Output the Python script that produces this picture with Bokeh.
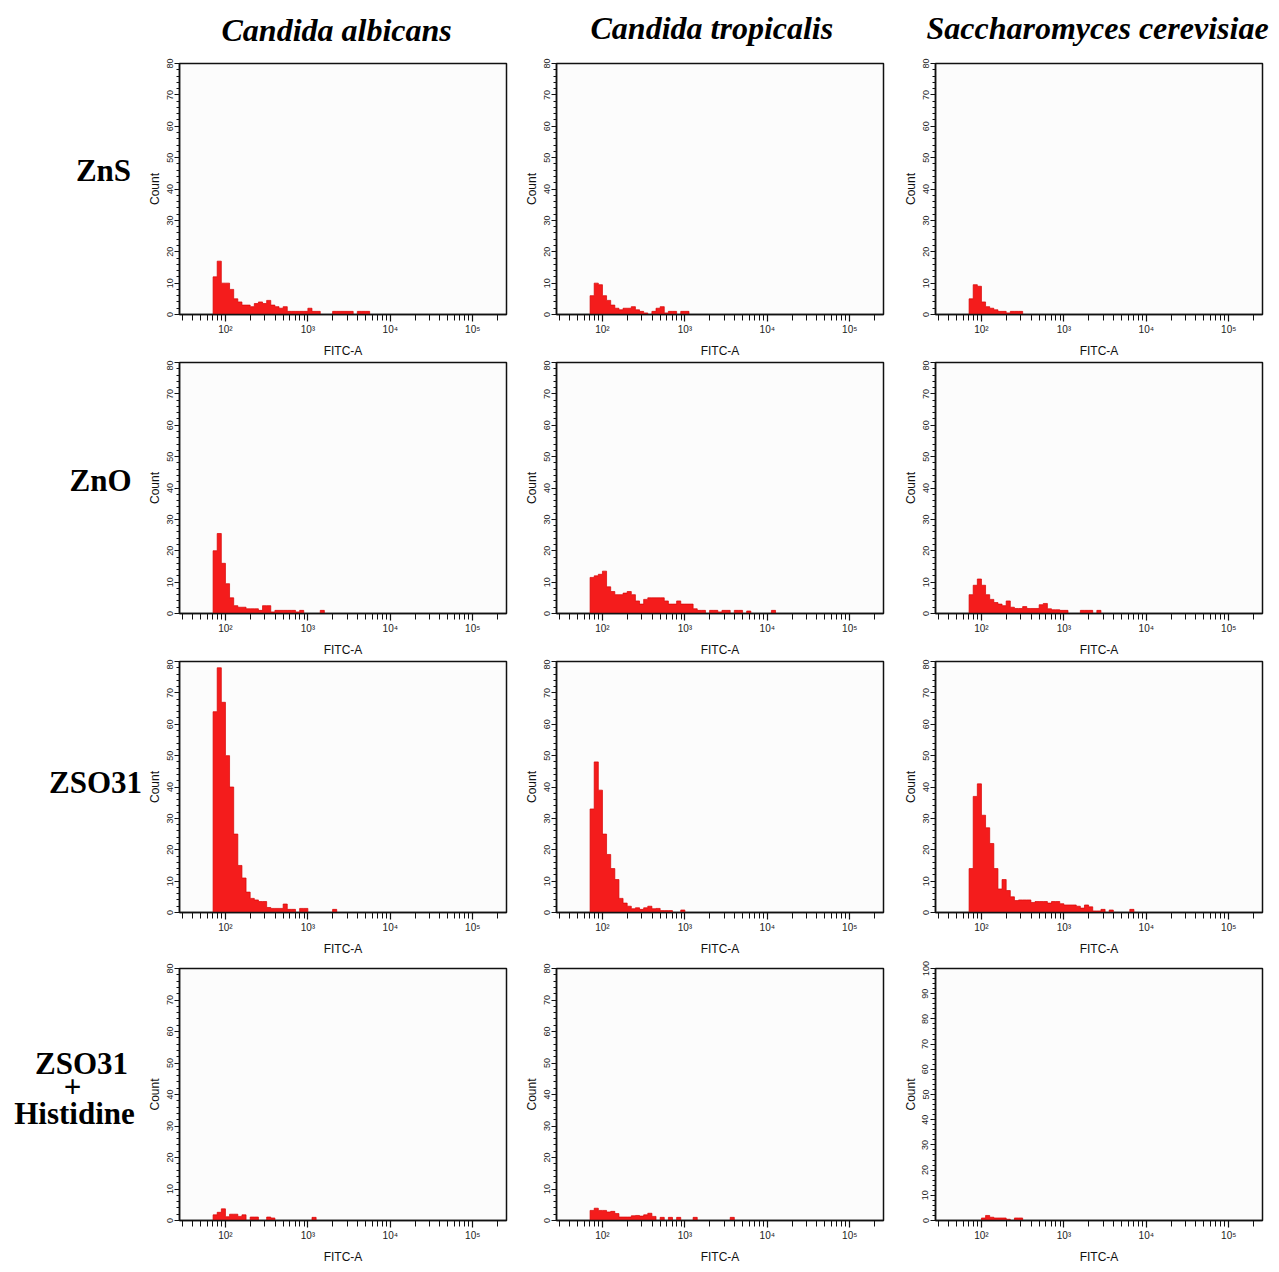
from bokeh.plotting import figure
from bokeh.models import Range1d, FixedTicker, ColumnDataSource
from bokeh.layouts import row, column
from bokeh.core.properties import value
from bokeh.embed import file_html
from bokeh.resources import INLINE

# ---------------- data ----------------
COLUMNS = ["Candida albicans", "Candida tropicalis", "Saccharomyces cerevisiae"]
ROWS = ["ZnS", "ZnO", "ZSO31", "ZSO31 + Histidine"]

# FITC-A histogram bin edges (log-spaced, 0.05 decade)
EDGES = [70.8, 79.4, 89.1, 100, 112.2, 125.9, 141.3, 158.5, 177.8, 199.5,
         223.9, 251.2, 281.8, 316.2, 354.8, 398.1, 446.7, 501.2, 562.3, 631.0,
         707.9, 794.3, 891.3, 1000, 1122, 1259, 1413, 1585, 1778, 1995,
         2239, 2512, 2818, 3162, 3548, 3981, 4467, 5012, 5623, 6310,
         7079, 7943, 8913, 10000, 11220, 12589, 14125, 15849]

zns_albicans = [12, 17, 10, 10, 8, 5, 4, 3, 3, 2.5, 3.5, 4, 3.5, 4.5, 3, 2.5, 2, 2.5, 1, 1,
                1, 1, 1, 2, 1, 1, 0, 0, 0, 1, 1, 1, 1, 1, 0, 1, 1, 1]
zns_tropicalis = [6, 10, 9.5, 6, 4.5, 3, 2, 1.5, 2, 2, 2.5, 1.5, 1, 0.5, 0, 1, 2, 2.5, 0.5, 1,
                  1, 0, 1, 1]
zns_cerevisiae = [5, 9.5, 9, 4, 2.5, 2, 1.5, 1, 1, 0.5, 1, 1, 1]

zno_albicans = [20, 25.5, 16, 9.5, 5, 2.5, 2, 2, 1.5, 1.5, 1.5, 1, 2.5, 2.5, 0.5, 1, 1, 1, 1, 1,
                0.5, 1, 0, 0, 0, 0, 1]
zno_tropicalis = [11.5, 12, 12.5, 13.5, 8.5, 7, 6, 6, 6.5, 7, 6, 4, 3, 4.5, 5, 5, 5, 5, 4, 3,
                  3, 4, 3, 3, 3, 1.5, 1, 1, 0, 1, 1, 0.5, 1, 1, 0, 1, 1, 0, 0.8, 0,
                  0, 0, 0, 0, 1]
zno_cerevisiae = [6, 9, 11, 9, 6, 4.5, 3.5, 3, 2.5, 4, 2, 1.6, 1.6, 2.2, 1.6, 1.6, 1.6, 2.8, 3.2, 1.5,
                  1.2, 1.2, 1, 1, 0, 0, 0, 1, 1, 1, 0, 1]

zso_albicans = [64, 78, 67, 50, 40, 25, 15, 11, 6.5, 4.5, 4, 3.5, 3.5, 1.6, 1.3, 1.3, 1.3, 2.7, 1, 1,
                0, 1.3, 1.3, 0, 0, 0, 0, 0, 0, 1]
zso_tropicalis = [33, 48, 39, 25, 18.5, 14, 10.5, 4.5, 3, 2, 1.2, 1.5, 1, 1.5, 2, 1.2, 1.3, 0.6, 0.6, 0.6,
                  0, 0, 0.8]
zso_cerevisiae = [14, 37, 41, 31, 27, 22, 14, 7.5, 10.5, 7, 5, 3.8, 4, 4, 4, 3.2, 3.5, 3.5, 3.5, 3,
                  3.5, 3.5, 2.8, 2.4, 2.4, 2.4, 2, 1.4, 2.4, 1.8, 0.5, 0.5, 1, 0, 0.8, 0, 0, 0, 0, 1]

his_albicans = [1.8, 2.6, 3.7, 1.2, 2, 2, 1.3, 1.8, 0, 1.1, 1.1, 0, 0, 1.1, 0.8, 0, 0, 0, 0, 0,
                0, 0, 0, 0, 1]
his_tropicalis = [3.2, 3.9, 3.2, 3.2, 2.7, 2.9, 2.2, 1.1, 1.1, 1.1, 1.5, 1.6, 1.4, 1.8, 2.3, 1.3, 0, 1, 0, 1,
                  0, 1, 0, 0, 0, 1, 0, 0, 0, 0, 0, 0, 0, 0, 1]
his_cerevisiae = [0, 0, 0, 1, 2, 1.3, 1, 1, 1, 0.5, 0, 1, 1]

DATA = [[zns_albicans, zns_tropicalis, zns_cerevisiae],
        [zno_albicans, zno_tropicalis, zno_cerevisiae],
        [zso_albicans, zso_tropicalis, zso_cerevisiae],
        [his_albicans, his_tropicalis, his_cerevisiae]]
YMAX = [[80, 80, 80], [80, 80, 80], [80, 80, 80], [80, 80, 100]]

X_MAJOR = [100, 1000, 10000, 100000]
X_LABELS = ["10\u00b2", "10\u00b3", "10\u2074", "10\u2075"]
X_MINOR = [m * 10 ** e for e in range(1, 6) for m in range(2, 10) if 27.7 < m * 10 ** e < 2.57e5]
X_RANGE = (27.7, 2.57e5)

RED = "#f41c1c"
EDGE_RED = "#d80000"

# ---------------- layout geometry ----------------
FRAME_W = 327
COL_BORDERS = [(36, 14), (36, 16), (36, 10)]
ROW_BORDERS = [(11, 46, 251), (2, 46, 251), (2, 46, 251), (10, 46, 252)]


def panel(counts, ymax, col, r):
    bl, br = COL_BORDERS[col]
    bt, bb, fh = ROW_BORDERS[r]
    p = figure(frame_width=FRAME_W, frame_height=fh, x_axis_type="log",
               x_range=Range1d(*X_RANGE), y_range=Range1d(0, ymax),
               min_border_left=bl, min_border_right=br, min_border_top=bt, min_border_bottom=bb,
               toolbar_location=None, output_backend="svg",
               background_fill_color="#fcfcfc", border_fill_color="white",
               outline_line_color="#111111", outline_line_width=1.5)
    xs = [EDGES[0]]
    ys = [0]
    for k, c in enumerate(counts):
        xs += [EDGES[k], EDGES[k + 1]]
        ys += [c, c]
    xs.append(EDGES[len(counts)])
    ys.append(0)
    p.patch(xs, ys, fill_color=RED, line_color=EDGE_RED, line_width=0.7)
    p.grid.visible = False

    xa = p.xaxis[0]
    xa.ticker = FixedTicker(ticks=X_MAJOR, minor_ticks=X_MINOR)
    xa.major_label_overrides = {t: lab for t, lab in zip(X_MAJOR, X_LABELS)}
    xa.axis_label = "FITC-A"
    ya = p.yaxis[0]
    ya.ticker = FixedTicker(ticks=list(range(0, ymax + 1, 10)),
                            minor_ticks=[v for v in range(0, ymax + 1, 2) if v % 10])
    ya.axis_label = "Count"
    ya.major_label_orientation = "vertical"
    for ax in (xa, ya):
        ax.axis_line_color = "#111111"
        ax.axis_line_width = 1.5
        ax.major_tick_line_color = "#111111"
        ax.minor_tick_line_color = "#111111"
        ax.major_tick_line_width = 1.2
        ax.minor_tick_line_width = 1
        ax.major_tick_in = 0
        ax.minor_tick_in = 0
        ax.major_label_text_font = "Liberation Sans"
        ax.major_label_text_font_size = "9px"
        ax.major_label_text_color = "#222222"
        ax.axis_label_text_font = "Liberation Sans"
        ax.axis_label_text_font_style = "normal"
        ax.axis_label_text_color = "#111111"
        ax.axis_label_text_font_size = "12px"
    xa.major_label_text_font_size = "10px"
    xa.major_tick_out = 7
    xa.minor_tick_out = 6
    xa.major_label_standoff = 2
    xa.axis_label_standoff = 6
    ya.major_tick_out = 5
    ya.minor_tick_out = 3
    ya.major_label_standoff = 2
    ya.axis_label_standoff = 2
    return p


rows_l = []
for r in range(4):
    figs = [panel(DATA[r][c], YMAX[r][c], c, r) for c in range(3)]
    rows_l.append(row(*figs))

BODY_H = sum(bt + bb + fh for bt, bb, fh in ROW_BORDERS)
LABEL_W = 143


def blank(w, h):
    f = figure(width=w, height=h, x_range=Range1d(0, w), y_range=Range1d(h, 0),
               min_border=0, toolbar_location=None, output_backend="svg",
               outline_line_color=None, background_fill_color=None, border_fill_color=None)
    f.axis.visible = False
    f.grid.visible = False
    return f


lab = blank(LABEL_W, BODY_H)
lab_src = ColumnDataSource(dict(
    x=[103, 100, 95, 81, 72, 74],
    y=[118, 428, 730, 1011, 1034, 1061],
    t=["ZnS", "ZnO", "ZSO31", "ZSO31", "+", "Histidine"]))
lab.text(x="x", y="y", text="t", source=lab_src, text_font=value("Liberation Serif"),
         text_font_style="bold", text_font_size="31px", text_align="center",
         text_baseline="middle", text_color="black")

HEAD_H = 52
head = blank(1279, HEAD_H)
head_src = ColumnDataSource(dict(x=[221, 590, 926], y=[29, 27, 27], t=COLUMNS))
head.text(x="x", y="y", text="t", source=head_src, text_font=value("Liberation Serif"),
          text_font_style="bold italic", text_font_size="32px", text_align="left",
          text_baseline="middle", text_color="black")

layout = column(head, row(lab, column(*rows_l)))

open("out.html", "w").write(file_html(layout, INLINE))
